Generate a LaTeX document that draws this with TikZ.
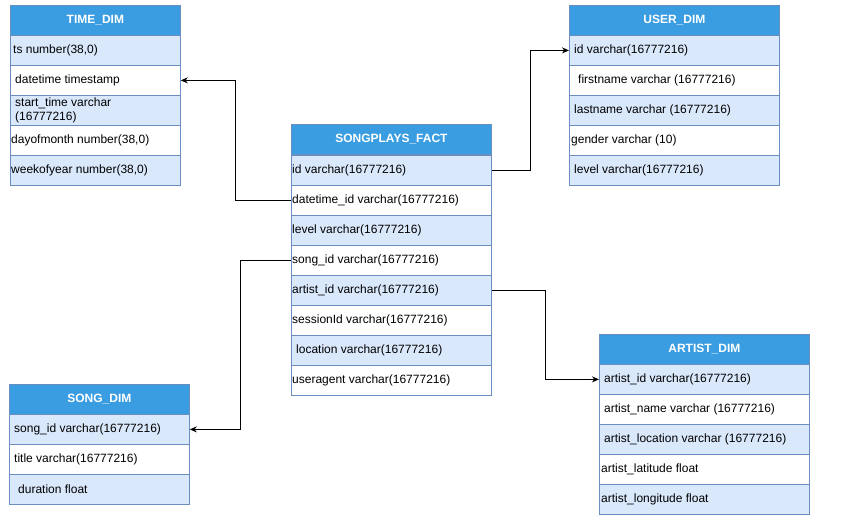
\documentclass[tikz,border=0pt]{standalone}
\usepackage{fontspec}
\setmainfont{Liberation Sans}
\usetikzlibrary{arrows.meta}
\definecolor{hdrc}{HTML}{3A9DE1}
\definecolor{rowc}{HTML}{DAE8FC}
\definecolor{bordc}{HTML}{6C8EBF}
\tikzset{
  cell/.style={draw=bordc, line width=0.8pt, minimum height=30pt, minimum width=#1, inner sep=0pt, anchor=north west, font=\fontsize{12}{14}\selectfont},
  hdr/.style={cell=#1, fill=hdrc, text=white, font=\fontsize{12}{14}\selectfont\bfseries},
  rb/.style={fill=rowc},
  rw/.style={fill=white},
  lbl/.style={anchor=west, inner sep=0pt, align=left, font=\fontsize{12}{14}\selectfont},
  conn/.style={draw=black, line width=0.8pt, -{Stealth[length=7pt,width=6pt]}}
}
\begin{document}
\begin{tikzpicture}[x=1pt,y=-1pt]
\useasboundingbox (0,0) rectangle (844,530);
% TIME_DIM
\node[hdr=170pt] (th) at (10,5) {TIME\_DIM};
\node[cell=170pt, rb, label={[lbl, xshift=3pt]west:{ts number(38,0)}}] (t1) at (10,35) {};
\node[cell=170pt, rw, label={[lbl, xshift=5pt]west:{datetime timestamp}}] (t2) at (10,65) {};
\node[cell=170pt, rb, label={[lbl, xshift=5pt]west:{start\_time varchar\\(16777216)}}] (t3) at (10,95) {};
\node[cell=170pt, rw, label={[lbl, xshift=1pt]west:{dayofmonth number(38,0)}}] (t4) at (10,125) {};
\node[cell=170pt, rb, label={[lbl, xshift=1pt]west:{weekofyear number(38,0)}}] (t5) at (10,155) {};
% USER_DIM
\node[hdr=210pt] (uh) at (569,5) {USER\_DIM};
\node[cell=210pt, rb, label={[lbl, xshift=5pt]west:{id varchar(16777216)}}] (u1) at (569,35) {};
\node[cell=210pt, rw, label={[lbl, xshift=9pt]west:{firstname varchar (16777216)}}] (u2) at (569,65) {};
\node[cell=210pt, rb, label={[lbl, xshift=5pt]west:{lastname varchar (16777216)}}] (u3) at (569,95) {};
\node[cell=210pt, rw, label={[lbl, xshift=2pt]west:{gender varchar (10)}}] (u4) at (569,125) {};
\node[cell=210pt, rb, label={[lbl, xshift=5pt]west:{level varchar(16777216)}}] (u5) at (569,155) {};
% SONGPLAYS_FACT
\node[hdr=200pt] (fh) at (291,124) {SONGPLAYS\_FACT};
\node[cell=200pt, rb, label={[lbl, xshift=1pt]west:{id varchar(16777216)}}] (f1) at (291,155) {};
\node[cell=200pt, rw, label={[lbl, xshift=1pt]west:{datetime\_id varchar(16777216)}}] (f2) at (291,185) {};
\node[cell=200pt, rb, label={[lbl, xshift=1pt]west:{level varchar(16777216)}}] (f3) at (291,215) {};
\node[cell=200pt, rw, label={[lbl, xshift=1pt]west:{song\_id varchar(16777216)}}] (f4) at (291,245) {};
\node[cell=200pt, rb, label={[lbl, xshift=1pt]west:{artist\_id varchar(16777216)}}] (f5) at (291,275) {};
\node[cell=200pt, rw, label={[lbl, xshift=1pt]west:{sessionId varchar(16777216)}}] (f6) at (291,305) {};
\node[cell=200pt, rb, label={[lbl, xshift=5pt]west:{location varchar(16777216)}}] (f7) at (291,335) {};
\node[cell=200pt, rw, label={[lbl, xshift=1pt]west:{useragent varchar(16777216)}}] (f8) at (291,365) {};
% SONG_DIM
\node[hdr=180pt] (sh) at (9,384) {SONG\_DIM};
\node[cell=180pt, rb, label={[lbl, xshift=5pt]west:{song\_id varchar(16777216)}}] (s1) at (9,414) {};
\node[cell=180pt, rw, label={[lbl, xshift=5pt]west:{title varchar(16777216)}}] (s2) at (9,444) {};
\node[cell=180pt, rb, label={[lbl, xshift=9pt]west:{duration float}}] (s3) at (9,474) {};
% ARTIST_DIM
\node[hdr=210pt] (ah) at (599,334) {ARTIST\_DIM};
\node[cell=210pt, rb, label={[lbl, xshift=5pt]west:{artist\_id varchar(16777216)}}] (a1) at (599,364) {};
\node[cell=210pt, rw, label={[lbl, xshift=5pt]west:{artist\_name varchar (16777216)}}] (a2) at (599,394) {};
\node[cell=210pt, rb, label={[lbl, xshift=5pt]west:{artist\_location varchar (16777216)}}] (a3) at (599,424) {};
\node[cell=210pt, rw, label={[lbl, xshift=2pt]west:{artist\_latitude float}}] (a4) at (599,454) {};
\node[cell=210pt, rb, label={[lbl, xshift=2pt]west:{artist\_longitude float}}] (a5) at (599,484) {};
% connectors
\draw[conn] (f2.west) -- ++(-56,0) |- (t2.east);
\draw[conn] (f1.east) -- ++(39,0) |- (u1.west);
\draw[conn] (f4.west) -- ++(-51,0) |- (s1.east);
\draw[conn] (f5.east) -- ++(54,0) |- (a1.west);
\end{tikzpicture}
\end{document}
